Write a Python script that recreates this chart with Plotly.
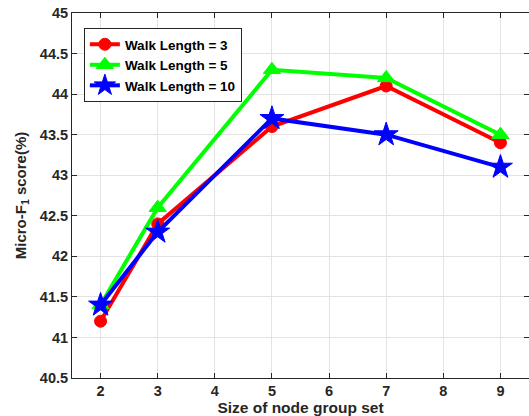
import plotly.graph_objects as go

x_vals = [2, 3, 5, 7, 9]
wl3 = [41.2, 42.4, 43.6, 44.1, 43.4]
wl5 = [41.4, 42.6, 44.3, 44.2, 43.5]
wl10 = [41.4, 42.3, 43.7, 43.5, 43.1]
names = ["Walk Length = 3", "Walk Length = 5", "Walk Length = 10"]
x_ticks = [2, 3, 4, 5, 6, 7, 8, 9]
y_ticks = [40.5, 41, 41.5, 42, 42.5, 43, 43.5, 44, 44.5, 45]
y_ticklabels = ["40.5", "41", "41.5", "42", "42.5", "43", "43.5", "44", "44.5", "45"]

colors = ["#ff0000", "#00ff00", "#0000ff"]
symbols = ["circle", "triangle-up", "star"]
sizes = [12, 15, 18]

fig = go.Figure()
for ys, nm, c, s, sz in zip([wl3, wl5, wl10], names, colors, symbols, sizes):
    fig.add_trace(go.Scatter(
        x=x_vals, y=ys, name="<b>" + nm + "</b>", mode="lines+markers",
        line=dict(color=c, width=4),
        marker=dict(symbol=s, size=sz, color=c, line=dict(color=c, width=1)),
    ))

axis_common = dict(
    showline=True, linecolor="#262626", linewidth=1, mirror="ticks",
    ticks="inside", ticklen=5, tickcolor="#262626",
    showgrid=True, gridcolor="#e3e3e3", gridwidth=1, zeroline=False,
    automargin=False,
    tickfont=dict(family="Liberation Sans", size=14.5, color="#262626"),
)

fig.update_layout(
    width=529, height=416,
    margin=dict(l=72, r=0, t=13, b=38, autoexpand=False),
    paper_bgcolor="white", plot_bgcolor="white",
    font=dict(family="Liberation Sans"),
    xaxis=dict(range=[1.5, 9.5], tickvals=x_ticks,
               ticktext=["<b>%d</b>" % v for v in x_ticks], **axis_common,
               title=dict(text="<b>Size of node group set</b>", standoff=14,
                          font=dict(size=15.5, color="#262626"))),
    yaxis=dict(range=[40.5, 45], tickvals=y_ticks,
               ticktext=["<b>%s</b>" % t for t in y_ticklabels],
               **axis_common,
               title=dict(text="<b>Micro-F<sub>1</sub> score(%)</b>", standoff=9,
                          font=dict(size=15, color="#262626"))),
    legend=dict(x=0.026, y=0.959, xanchor="left", yanchor="top",
                bgcolor="white", bordercolor="#262626", borderwidth=1,
                font=dict(size=13.5, color="black"),
                tracegroupgap=0, itemwidth=30),
    showlegend=True,
)

# remove the default 8px body margin so the figure sits at the window origin
fig.write_html("out.html",
               config={"displayModeBar": False},
               post_script="document.body.style.margin='0px';document.body.style.overflow='hidden';")
